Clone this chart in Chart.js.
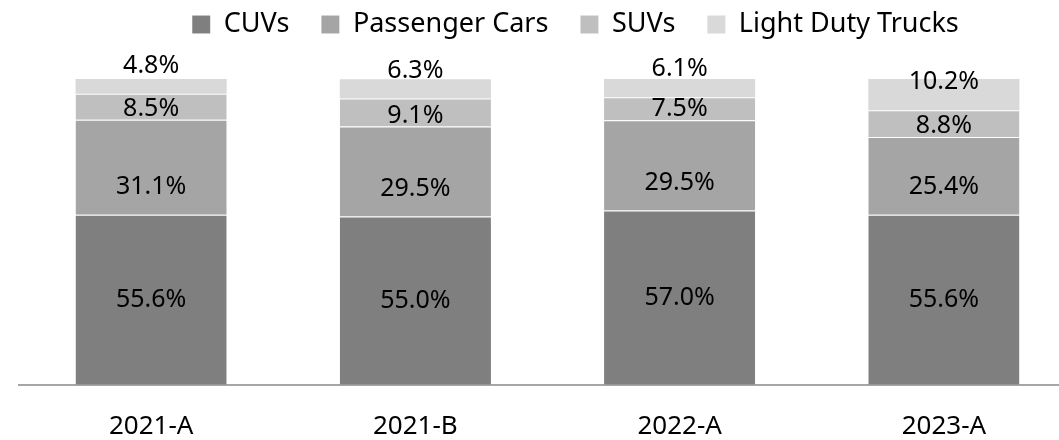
<!DOCTYPE html>
<html>
<head>
<meta charset="utf-8">
<script src="https://cdn.jsdelivr.net/npm/chart.js@4"></script>
<style>
  html, body { margin: 0; padding: 0; background: #fff; overflow: hidden; }
  #wrap { width: 1059px; height: 440px; overflow: hidden; }
</style>
</head>
<body>
<div id="wrap"><canvas id="mixChart" width="1076" height="468"></canvas></div>
<script>
    // Vehicle mix by period (% share)
    const periods = ['2021-A', '2021-B', '2022-A', '2023-A'];
    const cuvs = [55.6, 55.0, 57.0, 55.6];
    const passengerCars = [31.1, 29.5, 29.5, 25.4];
    const suvs = [8.5, 9.1, 7.5, 8.8];
    const lightDutyTrucks = [4.8, 6.3, 6.1, 10.2];

    const FONT = '"Noto Sans", sans-serif';

    // labels: CUVs centred, the rest sit near the base of their segment
    const segmentLabels = {
        id: 'segmentLabels',
        afterDatasetsDraw(chart) {
            const ctx = chart.ctx;
            ctx.save();
            ctx.font = '25px ' + FONT;
            ctx.fillStyle = '#000';
            ctx.textAlign = 'center';
            ctx.textBaseline = 'middle';
            chart.data.datasets.forEach((ds, i) => {
                const meta = chart.getDatasetMeta(i);
                meta.data.forEach((bar, j) => {
                    const y = ds.labelLift == null ? (bar.y + bar.base) / 2 : bar.base - ds.labelLift;
                    ctx.fillText(ds.data[j].toFixed(1) + '%', bar.x, y);
                });
            });
            ctx.restore();
        }
    };

    // fixed legend band above the plot, nudged right and up
    const legendBand = {
        id: 'legendBand',
        beforeInit(chart) {
            const fit = chart.legend.fit;
            chart.legend.fit = function () {
                fit.bind(chart.legend)();
                this.height = 79;
            };
        },
        afterLayout(chart) {
            const lg = chart.legend;
            lg.left += 28;
            lg.right += 28;
            lg.top -= 21;
            lg.bottom -= 21;
        }
    };

    const seg = { top: 1, right: 0, bottom: 0, left: 0 };
    const edge = 'rgba(255,255,255,0.3)';
    const ctx = document.getElementById('mixChart');
    new Chart(ctx, {
        type: 'bar',
        data: {
            labels: periods,
            datasets: [
                { label: 'CUVs', data: cuvs, backgroundColor: '#7f7f7f', borderColor: edge, borderWidth: seg, borderSkipped: false },
                { label: 'Passenger Cars', data: passengerCars, backgroundColor: '#a5a5a5', borderColor: edge, borderWidth: seg, borderSkipped: false, labelLift: 28 },
                { label: 'SUVs', data: suvs, backgroundColor: '#bfbfbf', borderColor: edge, borderWidth: seg, borderSkipped: false, labelLift: 11 },
                { label: 'Light Duty Trucks', data: lightDutyTrucks, backgroundColor: '#d9d9d9', borderWidth: 0, labelLift: 28 }
            ]
        },
        options: {
            responsive: false,
            animation: false,
            layout: { padding: { left: 19, right: 0, top: 0, bottom: 0 } },
            datasets: { bar: { barPercentage: 1, categoryPercentage: 0.572 } },
            plugins: {
                legend: {
                    position: 'top',
                    labels: {
                        boxWidth: 18,
                        boxHeight: 18,
                        padding: 32,
                        color: '#000',
                        font: { family: FONT, size: 27 }
                    }
                },
                tooltip: { enabled: false }
            },
            scales: {
                x: {
                    stacked: true,
                    grid: { display: false, drawTicks: false },
                    border: { display: true, color: '#a6a6a6', width: 2 },
                    ticks: { color: '#000', padding: 26, font: { family: FONT, size: 26 } }
                },
                y: {
                    stacked: true,
                    display: false,
                    min: 0,
                    max: 100
                }
            }
        },
        plugins: [segmentLabels, legendBand]
    });
</script>
</body>
</html>
